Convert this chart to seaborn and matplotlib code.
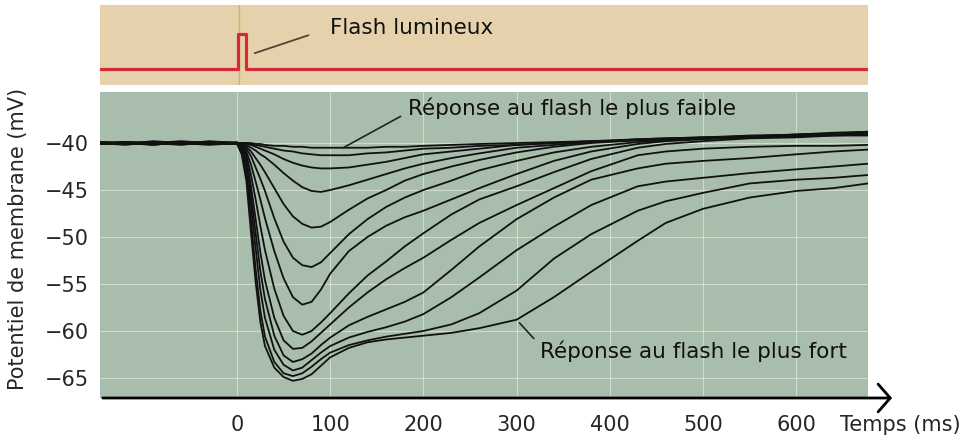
import numpy as np
import pandas as pd
import matplotlib
matplotlib.use("Agg")
import matplotlib.pyplot as plt
import seaborn as sns
from matplotlib.patches import FancyArrowPatch

# Sampling times of the recorded traces (ms after the flash)
time_ms = [-147, -120, -90, -60, -30, 0, 5, 10, 15, 20, 25, 30, 40, 50, 60, 70, 80, 90,
           100, 120, 140, 160, 180, 200, 230, 260, 300, 340, 380, 430, 460, 500, 550,
           600, 640, 677]

# Membrane potential (mV), strongest flash first
r01 = [-40.1, -39.9, -40.2, -39.9, -40.0, -40.1, -41.2, -44.0, -49.5, -54.8, -59.0, -61.6, -63.9, -64.9, -65.3, -65.1, -64.6, -63.7,
       -62.8, -61.8, -61.2, -60.9, -60.7, -60.5, -60.2, -59.7, -58.8, -56.4, -53.7, -50.4, -48.5, -47.0, -45.8, -45.1, -44.8, -44.3]
r02 = [-40.0, -40.2, -39.9, -40.1, -39.8, -40.0, -40.9, -43.2, -48.3, -53.4, -57.8, -60.6, -63.3, -64.5, -64.8, -64.5, -63.8, -63.0,
       -62.3, -61.5, -61.0, -60.6, -60.3, -60.0, -59.3, -58.1, -55.7, -52.3, -49.7, -47.2, -46.2, -45.3, -44.3, -43.9, -43.7, -43.4]
r03 = [-39.9, -40.0, -40.2, -39.9, -40.1, -40.0, -40.7, -42.6, -46.8, -51.2, -55.6, -58.6, -62.0, -63.6, -64.2, -63.9, -63.1, -62.3,
       -61.6, -60.7, -60.1, -59.6, -59.0, -58.2, -56.4, -54.3, -51.4, -48.9, -46.6, -44.6, -44.1, -43.7, -43.2, -42.8, -42.5, -42.2]
r04 = [-40.1, -39.9, -40.0, -40.2, -39.9, -40.1, -40.6, -42.1, -45.6, -49.6, -53.6, -56.6, -60.5, -62.6, -63.3, -63.0, -62.4, -61.5,
       -60.7, -59.4, -58.5, -57.7, -56.9, -55.9, -53.5, -51.0, -48.1, -45.8, -43.9, -42.7, -42.2, -41.9, -41.6, -41.2, -40.9, -40.7]
r05 = [-40.0, -40.1, -39.8, -40.0, -40.2, -40.0, -40.5, -41.6, -44.6, -48.1, -51.6, -54.6, -58.6, -61.0, -61.9, -61.8, -61.1, -60.2,
       -59.3, -57.5, -55.9, -54.5, -53.3, -52.2, -50.3, -48.5, -46.6, -44.8, -43.0, -41.3, -40.9, -40.6, -40.4, -40.3, -40.3, -40.2]
r06 = [-39.9, -40.1, -40.0, -39.8, -40.0, -40.1, -40.4, -41.2, -43.4, -46.0, -48.8, -51.4, -55.5, -58.4, -60.0, -60.4, -60.0, -59.1,
       -58.1, -56.0, -54.1, -52.6, -51.0, -49.6, -47.6, -46.0, -44.6, -43.1, -41.7, -40.5, -40.1, -39.8, -39.5, -39.4, -39.2, -39.1]
r07 = [-40.0, -39.9, -40.1, -40.0, -39.9, -40.0, -40.3, -40.9, -42.3, -44.1, -46.0, -48.0, -51.5, -54.4, -56.4, -57.2, -56.9, -55.6,
       -53.9, -51.5, -50.0, -48.8, -47.9, -47.2, -46.0, -44.8, -43.3, -41.9, -40.9, -40.1, -39.8, -39.6, -39.4, -39.2, -39.1, -38.9]
r08 = [-40.1, -40.0, -39.9, -40.1, -40.0, -39.9, -40.2, -40.6, -41.4, -42.6, -43.8, -45.1, -48.0, -50.5, -52.2, -53.0, -53.2, -52.7,
       -51.7, -49.7, -48.1, -46.8, -45.8, -45.0, -44.0, -42.9, -41.9, -41.0, -40.4, -39.9, -39.7, -39.5, -39.3, -39.1, -39.0, -38.8]
r09 = [-40.0, -40.1, -40.0, -39.9, -40.1, -40.0, -40.1, -40.4, -40.9, -41.6, -42.3, -43.1, -44.8, -46.5, -47.8, -48.6, -49.0, -48.9,
       -48.4, -47.1, -45.9, -45.0, -44.0, -43.3, -42.5, -41.8, -41.0, -40.4, -40.0, -39.7, -39.6, -39.4, -39.2, -39.1, -38.9, -38.8]
r10 = [-39.9, -40.0, -40.1, -40.0, -39.9, -40.0, -40.1, -40.2, -40.5, -40.8, -41.2, -41.5, -42.3, -43.2, -44.0, -44.7, -45.1, -45.2,
       -45.0, -44.5, -43.9, -43.3, -42.7, -42.2, -41.6, -41.1, -40.5, -40.2, -39.9, -39.6, -39.5, -39.4, -39.3, -39.1, -39.0, -38.9]
r11 = [-40.0, -39.9, -40.0, -40.1, -40.0, -40.0, -40.0, -40.1, -40.2, -40.4, -40.6, -40.8, -41.2, -41.7, -42.1, -42.4, -42.6, -42.7,
       -42.7, -42.6, -42.3, -42.0, -41.6, -41.2, -40.9, -40.6, -40.2, -40.0, -39.8, -39.6, -39.5, -39.4, -39.3, -39.2, -39.1, -39.1]
r12 = [-40.1, -40.0, -39.9, -40.0, -40.1, -40.0, -40.0, -40.0, -40.1, -40.2, -40.3, -40.4, -40.6, -40.8, -40.9, -41.1, -41.2, -41.3,
       -41.3, -41.3, -41.1, -41.0, -40.8, -40.6, -40.5, -40.3, -40.2, -40.0, -39.9, -39.7, -39.6, -39.5, -39.4, -39.3, -39.2, -39.2]
r13 = [-40.0, -40.1, -40.0, -40.1, -39.9, -40.0, -40.0, -40.0, -40.0, -40.1, -40.1, -40.2, -40.3, -40.3, -40.4, -40.4, -40.5, -40.5,
       -40.5, -40.5, -40.5, -40.4, -40.4, -40.3, -40.2, -40.1, -40.0, -39.9, -39.8, -39.7, -39.6, -39.5, -39.3, -39.2, -39.0, -38.9]
responses = [r01, r02, r03, r04, r05, r06, r07, r08, r09, r10, r11, r12, r13]

# Light stimulus trace (relative level)
flash_t = [-147, 1, 1, 10, 10, 677]
flash_level = [0, 0, 1, 1, 0, 0]

x_ticks = [0, 100, 200, 300, 400, 500, 600]
y_ticks = [-65, -60, -55, -50, -45, -40]

sns.set_style("white")
plt.rcParams["font.family"] = ["DejaVu Sans"]

df = pd.concat(
    [pd.DataFrame({"t": time_ms, "v": r, "trace": i}) for i, r in enumerate(responses)],
    ignore_index=True,
)

W, H = 965, 438
fig = plt.figure(figsize=(W / 100, H / 100), dpi=100)
ax_top = fig.add_axes([100 / W, 1 - 85 / H, 768 / W, 80 / H])
ax = fig.add_axes([100 / W, 1 - 398 / H, 768 / W, 306 / H])

XLIM = (-147, 677)

# --- stimulus panel ---
ax_top.set_facecolor("#E5D2AC")
ax_top.axvline(2, color="#D6B44C", lw=1.0, zorder=1)
sns.lineplot(x=flash_t, y=flash_level, ax=ax_top, color="#D42A3C", lw=2.3,
             sort=False, estimator=None, zorder=3)
ax_top.set_xlim(*XLIM)
ax_top.set_ylim(-0.4545, 1.818)
ax_top.set_xticks([])
ax_top.set_yticks([])
ax_top.set_xlabel("")
ax_top.set_ylabel("")
for s in ax_top.spines.values():
    s.set_visible(False)
ax_top.annotate("Flash lumineux", xy=(19, 0.45), xytext=(100, 1.165),
                fontsize=15.5, va="center", ha="left", color="#111111",
                arrowprops=dict(arrowstyle="-", color="#4F4630", lw=1.3,
                                shrinkA=14, shrinkB=0, relpos=(0, 0.5)))

# --- response panel ---
ax.set_facecolor("#A8BDAB")
for xv in x_ticks:
    ax.axvline(xv, color="white", lw=0.8, alpha=0.45, zorder=0)
for yv in y_ticks:
    ax.axhline(yv, color="white", lw=0.8, alpha=0.45, zorder=0)

sns.lineplot(data=df, x="t", y="v", hue="trace", palette=["#111111"] * len(responses),
             legend=False, ax=ax, lw=1.3, sort=False, estimator=None, zorder=3)

ax.set_xlim(*XLIM)
ax.set_ylim(-67.13, -34.57)
ax.set_xticks(x_ticks)
ax.set_xticklabels([str(v) for v in x_ticks])
ax.set_yticks(y_ticks)
ax.set_yticklabels([f"\u2212{abs(v)}" for v in y_ticks])
ax.tick_params(axis="x", length=0, pad=12, labelsize=15)
ax.tick_params(axis="y", length=0, pad=8, labelsize=15)
ax.set_xlabel("")
ax.set_ylabel("")
for s in ax.spines.values():
    s.set_visible(False)

# time axis drawn as an arrow
arrow = FancyArrowPatch((0, 0), (1.035, 0), transform=ax.transAxes,
                        arrowstyle="->,head_length=0.35,head_width=0.4",
                        mutation_scale=25, lw=2.0, color="black", clip_on=False)
ax.add_artist(arrow)

ax.annotate("Réponse au flash le plus faible", xy=(114, -40.5), xytext=(183, -36.3),
            fontsize=15.5, va="center", ha="left", color="#111111",
            arrowprops=dict(arrowstyle="-", color="#222222", lw=1.2,
                            shrinkA=3, shrinkB=0, relpos=(0, 0.3)))
ax.annotate("Réponse au flash le plus fort", xy=(300, -58.8), xytext=(325, -62.2),
            fontsize=15.5, va="center", ha="left", color="#111111",
            arrowprops=dict(arrowstyle="-", color="#222222", lw=1.2,
                            shrinkA=3, shrinkB=3, relpos=(0, 0.8)))

fig.text(840 / W, 1 - 425 / H, "Temps (ms)", fontsize=15, va="center", ha="left")
fig.text(18 / W, 1 - 239 / H, "Potentiel de membrane (mV)", fontsize=15,
         rotation=90, va="center", ha="center")

fig.savefig("out.png", dpi=100, facecolor="white")
